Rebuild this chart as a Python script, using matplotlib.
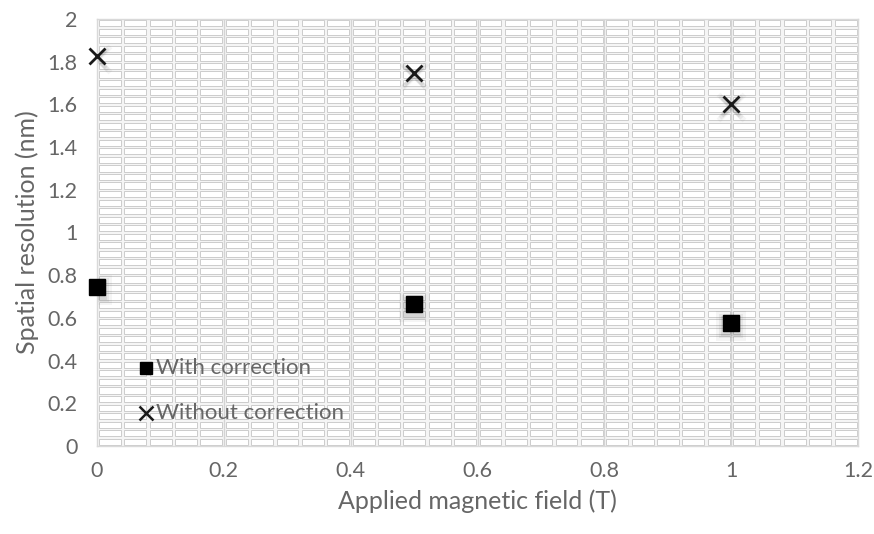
import matplotlib
matplotlib.use("Agg")
import matplotlib.pyplot as plt
from matplotlib.patches import Rectangle
import numpy as np

# Measured spatial resolution vs applied field
field = [0.0, 0.5, 1.0]
with_correction = [0.745, 0.665, 0.575]
without_correction = [1.825, 1.745, 1.60]

x_ticks = [0, 0.2, 0.4, 0.6, 0.8, 1, 1.2]
y_ticks = [0, 0.2, 0.4, 0.6, 0.8, 1, 1.2, 1.4, 1.6, 1.8, 2]

plt.rcParams['font.family'] = ['Lato', 'DejaVu Sans']
text_color = '#666666'

fig = plt.figure(figsize=(8.74, 5.34), dpi=100)
ax = fig.add_axes([97 / 874, 1 - 446 / 534, (858 - 97) / 874, (446 - 19) / 534])
ax.set_xlim(0, 1.2)
ax.set_ylim(0, 2)
ax.set_facecolor('#f5f5f5')

# Brick-like minor grid cells
step = 0.04
px_x = 1.2 / 761.0
px_y = 2.0 / 427.0
for gx in np.arange(0, 1.2 - 1e-9, step):
    for gy in np.arange(0, 2.0 - 1e-9, step):
        ax.add_patch(Rectangle((gx + 2 * px_x, gy + 1.2 * px_y),
                               step - 3.5 * px_x, step - 2.4 * px_y,
                               facecolor='white', edgecolor='#cccccc',
                               linewidth=0.7, zorder=0.5))
for gx in x_ticks[1:-1]:
    ax.axvline(gx, color='#d4d4d4', lw=1.0, zorder=0.6)

for s in ax.spines.values():
    s.set_color('#d9d9d9')
    s.set_linewidth(1.0)

def shadowed(x, y, marker, size, mew):
    for k, a in zip([1.9, 1.6, 1.35], [0.06, 0.09, 0.12]):
        ax.plot(x, np.array(y) - 0.012, linestyle='none', marker=marker,
                markersize=size * k, color='#606060', alpha=a,
                markeredgewidth=mew * k, zorder=2)

shadowed(field, with_correction, 's', 11, 0)
shadowed(field, without_correction, 'x', 10, 2)
ax.plot(field, with_correction, linestyle='none', marker='s', markersize=11,
        color='black', zorder=3, clip_on=False)
ax.plot(field, without_correction, linestyle='none', marker='x', markersize=11,
        markeredgewidth=2, color='#1a1a1a', zorder=3, clip_on=False)

ax.set_xticks(x_ticks)
ax.set_xticklabels([f"{v:g}" for v in x_ticks])
ax.set_yticks(y_ticks)
ax.set_yticklabels([f"{v:g}" for v in y_ticks])
ax.tick_params(length=0, labelsize=15.5, labelcolor=text_color)
ax.tick_params(axis='x', pad=11)
ax.tick_params(axis='y', pad=14)
ax.set_xlabel('Applied magnetic field (T)', fontsize=18, color=text_color, labelpad=6)
ax.set_ylabel('Spatial resolution (nm)', fontsize=18, color=text_color, labelpad=6)

# Legend entries placed inside the plot area
lx, lx_text = 0.078, 0.093
ax.plot([lx], [0.365], marker='s', markersize=8, color='black', linestyle='none', zorder=4)
ax.text(lx_text, 0.365, 'With correction', fontsize=16, color=text_color, va='center', zorder=4)
ax.plot([lx], [0.155], marker='x', markersize=10, markeredgewidth=1.8, color='#1a1a1a',
        linestyle='none', zorder=4)
ax.text(lx_text, 0.155, 'Without correction', fontsize=16, color=text_color, va='center', zorder=4)

fig.savefig('out.png', dpi=100, facecolor='white')
